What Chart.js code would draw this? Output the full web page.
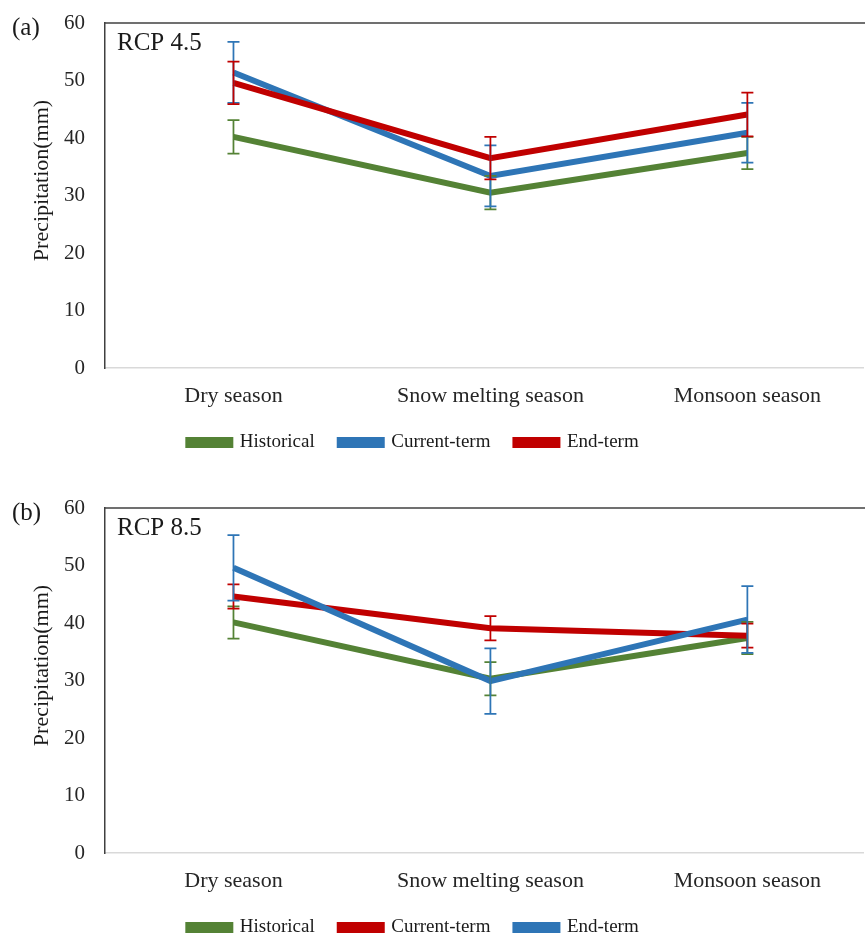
<!DOCTYPE html>
<html>
<head>
<meta charset="utf-8">
<script src="https://cdn.jsdelivr.net/npm/chart.js@4/dist/chart.umd.min.js"></script>
<style>
  html, body { margin: 0; padding: 0; background: #fff; }
  body { width: 865px; height: 939px; overflow: hidden; position: relative; }
  .panel { position: absolute; left: 0; width: 865px; height: 470px; }
  #panelA { top: 0; }
  #panelB { top: 485px; }
</style>
</head>
<body>
<div class="panel" id="panelA"><canvas id="chartA"></canvas></div>
<div class="panel" id="panelB"><canvas id="chartB"></canvas></div>
<script>
const seasons = ['Dry season', 'Snow melting season', 'Monsoon season'];
const yTicks = [0, 10, 20, 30, 40, 50, 60];

// RCP 4.5
const histA = [40.2, 30.5, 37.4];
const histErrA = [2.9, 2.9, 2.8];
const curA = [51.4, 33.4, 40.9];
const curErrA = [5.3, 5.3, 5.2];
const endA = [49.6, 36.5, 44.1];
const endErrA = [3.7, 3.7, 3.8];

// RCP 8.5
const histB = [40.1, 30.3, 37.4];
const histErrB = [2.8, 2.9, 2.8];
const curB = [44.6, 39.1, 37.8];
const curErrB = [2.1, 2.1, 2.1];
const endB = [49.6, 29.9, 40.6];
const endErrB = [5.7, 5.7, 5.8];

const HIJAU = '#548235';
const BIRU = '#2e75b6';
const MERAH = '#c00000';
const FONT = '"Liberation Serif", "Times New Roman", serif';

Chart.defaults.font.family = FONT;
Chart.defaults.color = '#262626';

// error bar + bingkai atas + label panel
const errorBarPlugin = {
    id: 'errorBars',
    afterLayout(chart) {
        // geser legenda sedikit ke kiri seperti di gambar asli
        chart.legend.left -= 18;
        chart.legend.right -= 18;
    },
    afterDatasetsDraw(chart) {
        const {ctx} = chart;
        const yScale = chart.scales.y;
        chart.data.datasets.forEach((ds, i) => {
            const meta = chart.getDatasetMeta(i);
            if (!ds.errors) return;
            ctx.save();
            ctx.strokeStyle = ds.borderColor;
            ctx.lineWidth = 1.75;
            meta.data.forEach((pt, j) => {
                const v = ds.data[j].y;
                const top = yScale.getPixelForValue(v + ds.errors[j]);
                const bot = yScale.getPixelForValue(v - ds.errors[j]);
                ctx.beginPath();
                ctx.moveTo(pt.x, top); ctx.lineTo(pt.x, bot);
                ctx.moveTo(pt.x - 6, top); ctx.lineTo(pt.x + 6, top);
                ctx.moveTo(pt.x - 6, bot); ctx.lineTo(pt.x + 6, bot);
                ctx.stroke();
            });
            ctx.restore();
        });
    },
    afterDraw(chart, args, opts) {
        const {ctx, chartArea} = chart;
        ctx.save();
        ctx.strokeStyle = '#404040';
        ctx.lineWidth = 1.5;
        ctx.beginPath();
        ctx.moveTo(chartArea.left, chartArea.top);
        ctx.lineTo(chartArea.right + 4, chartArea.top);
        ctx.stroke();
        ctx.fillStyle = '#1a1a1a';
        ctx.textBaseline = 'middle';
        ctx.font = '25px ' + FONT;
        ctx.fillText(opts.panel, 12, 28);
        ctx.fillText(opts.rcp, 117, 43);
        // judul sumbu y, sedikit di atas tengah seperti di Excel
        ctx.font = '22px ' + FONT;
        ctx.textAlign = 'center';
        ctx.translate(42, (chartArea.top + chartArea.bottom) / 2 - 15);
        ctx.rotate(-Math.PI / 2);
        ctx.fillText('Precipitation(mm)', 0, 0);
        ctx.restore();
    }
};

function buatChart(id, panel, rcp, series) {
    const datasets = series.map((s, k) => ({
        label: s.label,
        data: s.data.map((v, i) => ({ x: i, y: v })),
        errors: s.err,
        borderColor: s.color,
        backgroundColor: s.color,
        borderWidth: 6,
        pointRadius: 0,
        tension: 0,
        order: 3 - k
    }));

    return new Chart(document.getElementById(id), {
        type: 'line',
        data: { datasets },
        options: {
            responsive: true,
            maintainAspectRatio: false,
            animation: false,
            layout: { padding: { top: 23, right: 2, left: 0, bottom: 8 } },
            scales: {
                x: {
                    type: 'linear',
                    min: -0.5,
                    max: 2.45,
                    afterBuildTicks: s => { s.ticks = [0, 1, 2].map(v => ({ value: v })); },
                    afterFit: s => { s.height = 40; },
                    grid: { display: false, drawTicks: false },
                    border: { display: true, color: '#d9d9d9', width: 1.5 },
                    ticks: {
                        padding: 15,
                        maxRotation: 0,
                        font: { size: 22 },
                        callback: v => seasons[v]
                    }
                },
                y: {
                    min: 0,
                    max: 60,
                    afterBuildTicks: s => { s.ticks = yTicks.map(v => ({ value: v })); },
                    afterFit: s => {
                        s.width = 105;
                        s.paddingTop = 0;
                        s.paddingBottom = 0;
                    },
                    grid: { display: false, drawTicks: false },
                    border: { display: true, color: '#404040', width: 1.5 },
                    ticks: { padding: 20, font: { size: 21 } }
                }
            },
            plugins: {
                legend: {
                    position: 'bottom',
                    labels: {
                        boxWidth: 42,
                        boxHeight: 5,
                        padding: 25,
                        font: { size: 19 },
                        color: '#1a1a1a',
                        sort: (a, b) => a.datasetIndex - b.datasetIndex
                    }
                },
                tooltip: { enabled: false },
                errorBars: { panel, rcp }
            }
        },
        plugins: [errorBarPlugin]
    });
}

const seriA = [
    { label: 'Historical', data: histA, err: histErrA, color: HIJAU },
    { label: 'Current-term', data: curA, err: curErrA, color: BIRU },
    { label: 'End-term', data: endA, err: endErrA, color: MERAH }
];
const seriB = [
    { label: 'Historical', data: histB, err: histErrB, color: HIJAU },
    { label: 'Current-term', data: curB, err: curErrB, color: MERAH },
    { label: 'End-term', data: endB, err: endErrB, color: BIRU }
];

buatChart('chartA', '(a)', 'RCP 4.5', seriA);
buatChart('chartB', '(b)', 'RCP 8.5', seriB);
</script>
</body>
</html>
